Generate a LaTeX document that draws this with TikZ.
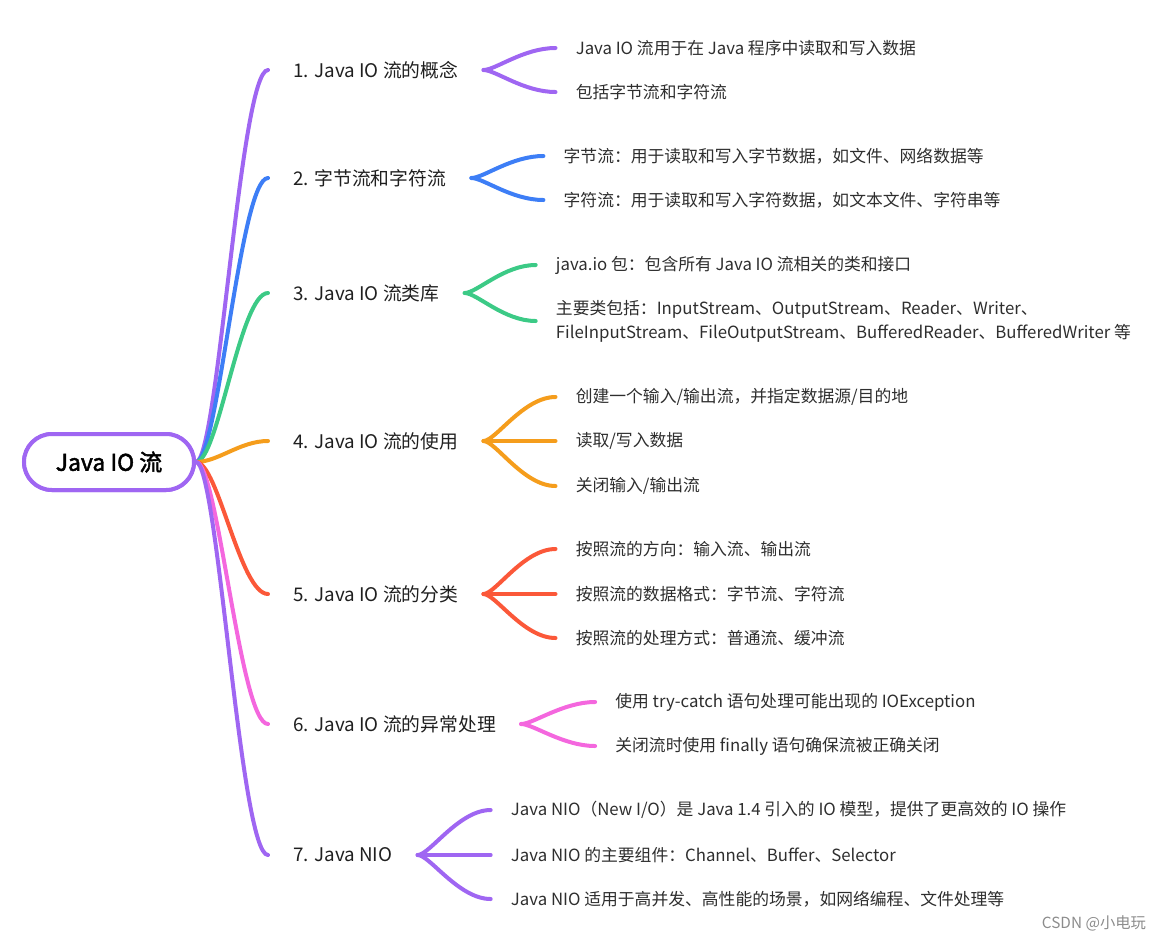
\documentclass[tikz,border=0pt]{standalone}
\usepackage{fontspec}
\setmainfont{Noto Sans CJK SC}
\newfontfamily\genfont{Noto Sans CJK SC}[FakeBold=2]
\usetikzlibrary{calc}

\definecolor{zi}{HTML}{9F66F2}
\definecolor{lan}{HTML}{3D7EF6}
\definecolor{lv}{HTML}{3CCA86}
\definecolor{cheng}{HTML}{F59D1C}
\definecolor{hong}{HTML}{FB5839}
\definecolor{fen}{HTML}{F467DE}

\begin{document}
\begin{tikzpicture}[x=0.75pt, y=-0.75pt,
    gen/.style={draw=zi, fill=white, line width=3pt, rounded corners=21pt,
        minimum width=127.5pt, minimum height=42pt,
        font=\genfont\fontsize{17.2pt}{20pt}\selectfont},
    zhu/.style={anchor=west, inner xsep=18.75pt, inner ysep=0pt,
        text=black!88, font=\fontsize{14.1pt}{16pt}\selectfont},
    zi1/.style={anchor=west, inner xsep=15pt, inner ysep=0pt, align=left,
        text=black!82, font=\fontsize{12.6pt}{18pt}\selectfont},
    xian/.style={line width=3pt, line cap=round},
]
    \useasboundingbox (0,0) rectangle (1174,940);

    % 中心主题
    \node[gen] (root) at (109,462) {Java IO 流};

    % 一级分支
    \node[zhu] (b1) at (268,70) {1. Java IO 流的概念};
    \node[zhu] (b2) at (268,178) {2. 字节流和字符流};
    \node[zhu] (b3) at (268,293) {3. Java IO 流类库};
    \node[zhu] (b4) at (268,441) {4. Java IO 流的使用};
    \node[zhu] (b5) at (268,594) {5. Java IO 流的分类};
    \node[zhu] (b6) at (268,724) {6. Java IO 流的异常处理};
    \node[zhu] (b7) at (268,855) {7. Java NIO};

    % 中心到一级分支的曲线
    \draw[xian, zi] (root.east) .. controls +(22,0) and +(-28,0) .. (b1.west);
    \draw[xian, lan] (root.east) .. controls +(22,0) and +(-28,0) .. (b2.west);
    \draw[xian, lv] (root.east) .. controls +(22,0) and +(-28,0) .. (b3.west);
    \draw[xian, cheng] (root.east) .. controls +(22,0) and +(-28,0) .. (b4.west);
    \draw[xian, hong] (root.east) .. controls +(22,0) and +(-28,0) .. (b5.west);
    \draw[xian, fen] (root.east) .. controls +(22,0) and +(-28,0) .. (b6.west);
    \draw[xian, zi] (root.east) .. controls +(22,0) and +(-28,0) .. (b7.west);
    \node[gen] at (root) {Java IO 流};

    % 二级分支
    \node[zi1] (c11) at ($(b1.east)+(72,-22)$) {Java IO 流用于在 Java 程序中读取和写入数据};
    \node[zi1] (c12) at ($(b1.east)+(72,22)$) {包括字节流和字符流};

    \node[zi1] (c21) at ($(b2.east)+(72,-22)$) {字节流：用于读取和写入字节数据，如文件、网络数据等};
    \node[zi1] (c22) at ($(b2.east)+(72,22)$) {字符流：用于读取和写入字符数据，如文本文件、字符串等};

    \node[zi1] (c31) at ($(b3.east)+(71,-28)$) {java.io 包：包含所有 Java IO 流相关的类和接口};
    \node[zi1] (c32) at ($(b3.east)+(71,28)$) {主要类包括：InputStream、OutputStream、Reader、Writer、\\FileInputStream、FileOutputStream、BufferedReader、BufferedWriter 等};

    \node[zi1] (c41) at ($(b4.east)+(72,-44)$) {创建一个输入/输出流，并指定数据源/目的地};
    \node[zi1] (c42) at ($(b4.east)+(72,0)$) {读取/写入数据};
    \node[zi1] (c43) at ($(b4.east)+(72,45)$) {关闭输入/输出流};

    \node[zi1] (c51) at ($(b5.east)+(72,-45)$) {按照流的方向：输入流、输出流};
    \node[zi1] (c52) at ($(b5.east)+(72,0)$) {按照流的数据格式：字节流、字符流};
    \node[zi1] (c53) at ($(b5.east)+(72,44)$) {按照流的处理方式：普通流、缓冲流};

    \node[zi1] (c61) at ($(b6.east)+(74,-22)$) {使用 try-catch 语句处理可能出现的 IOException};
    \node[zi1] (c62) at ($(b6.east)+(74,22)$) {关闭流时使用 finally 语句确保流被正确关闭};

    \node[zi1] (c71) at ($(b7.east)+(73,-45)$) {Java NIO（New I/O）是 Java 1.4 引入的 IO 模型，提供了更高效的 IO 操作};
    \node[zi1] (c72) at ($(b7.east)+(73,0)$) {Java NIO 的主要组件：Channel、Buffer、Selector};
    \node[zi1] (c73) at ($(b7.east)+(73,44)$) {Java NIO 适用于高并发、高性能的场景，如网络编程、文件处理等};

    % 一级到二级的曲线
    \draw[xian, zi] (b1.east) .. controls +(12,0) and +(-32,0) .. (c11.west);
    \draw[xian, zi] (b1.east) .. controls +(12,0) and +(-32,0) .. (c12.west);
    \draw[xian, lan] (b2.east) .. controls +(12,0) and +(-32,0) .. (c21.west);
    \draw[xian, lan] (b2.east) .. controls +(12,0) and +(-32,0) .. (c22.west);
    \draw[xian, lv] (b3.east) .. controls +(12,0) and +(-32,0) .. (c31.west);
    \draw[xian, lv] (b3.east) .. controls +(12,0) and +(-32,0) .. (c32.west);
    \draw[xian, cheng] (b4.east) .. controls +(12,0) and +(-32,0) .. (c41.west);
    \draw[xian, cheng] (b4.east) -- (c42.west);
    \draw[xian, cheng] (b4.east) .. controls +(12,0) and +(-32,0) .. (c43.west);
    \draw[xian, hong] (b5.east) .. controls +(12,0) and +(-32,0) .. (c51.west);
    \draw[xian, hong] (b5.east) -- (c52.west);
    \draw[xian, hong] (b5.east) .. controls +(12,0) and +(-32,0) .. (c53.west);
    \draw[xian, fen] (b6.east) .. controls +(12,0) and +(-32,0) .. (c61.west);
    \draw[xian, fen] (b6.east) .. controls +(12,0) and +(-32,0) .. (c62.west);
    \draw[xian, zi] (b7.east) .. controls +(12,0) and +(-32,0) .. (c71.west);
    \draw[xian, zi] (b7.east) -- (c72.west);
    \draw[xian, zi] (b7.east) .. controls +(12,0) and +(-32,0) .. (c73.west);

    % 水印
    \node[text=black!45, font=\fontsize{11.5pt}{14pt}\selectfont] (shuiyin) at (1094,923) {CSDN @小电玩};
\end{tikzpicture}
\end{document}
